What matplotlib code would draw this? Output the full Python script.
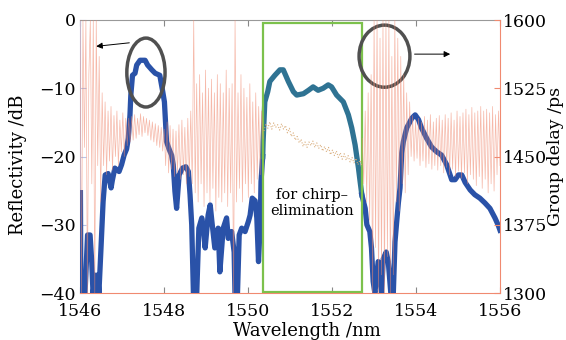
import numpy as np
import matplotlib
matplotlib.use("Agg")
import matplotlib.pyplot as plt
from matplotlib.patches import Ellipse, Rectangle

plt.rcParams['font.family'] = ['DejaVu Serif']
plt.rcParams['mathtext.fontset'] = 'dejavuserif'

# ---------------- data ----------------
# Reflectivity spectrum (dB)
refl_wl = [1546.01, 1546.02, 1546.12, 1546.18, 1546.24, 1546.28, 1546.31, 1546.37, 1546.42, 1546.45,
           1546.50, 1546.55, 1546.60, 1546.67, 1546.74, 1546.77, 1546.83, 1546.93, 1546.99, 1547.05,
           1547.11, 1547.15, 1547.19, 1547.21, 1547.25, 1547.31, 1547.35, 1547.43, 1547.55, 1547.61,
           1547.71, 1547.79, 1547.90, 1547.97, 1548.01, 1548.04, 1548.06, 1548.12, 1548.18, 1548.22,
           1548.26, 1548.30, 1548.36, 1548.44, 1548.52, 1548.58, 1548.62, 1548.66, 1548.70, 1548.78,
           1548.83, 1548.90, 1548.93, 1548.98, 1549.05, 1549.10, 1549.14, 1549.21, 1549.29, 1549.33,
           1549.41, 1549.49, 1549.53, 1549.61, 1549.67, 1549.69, 1549.75, 1549.79, 1549.85, 1549.93,
           1550.01, 1550.05, 1550.10, 1550.17, 1550.21, 1550.25, 1550.29, 1550.31, 1550.35,
           1550.36, 1550.40, 1550.47, 1550.52, 1550.64, 1550.76, 1550.84, 1550.96, 1551.08, 1551.16,
           1551.32, 1551.44, 1551.55, 1551.67, 1551.79, 1551.91, 1551.99, 1552.11, 1552.27, 1552.39,
           1552.47, 1552.55, 1552.63, 1552.67, 1552.71,
           1552.79, 1552.83, 1552.90, 1552.94, 1552.98, 1553.02, 1553.10, 1553.18, 1553.22, 1553.29,
           1553.34, 1553.40, 1553.46, 1553.50, 1553.54, 1553.58, 1553.62, 1553.66, 1553.70, 1553.78,
           1553.90, 1553.98, 1554.06, 1554.13, 1554.25, 1554.37, 1554.49, 1554.61, 1554.73, 1554.85,
           1554.93, 1555.01, 1555.09, 1555.17, 1555.29, 1555.40, 1555.52, 1555.64, 1555.76, 1555.88,
           1555.96, 1556.00]
refl_db = [-25.3, -40, -40, -31.5, -31.5, -35.5, -40, -37.4, -37.4, -40,
           -33.4, -26.6, -22.7, -22.5, -24.6, -23.5, -21.7, -22.2, -21.2, -19.8,
           -18.9, -17.3, -13.9, -11.0, -8.1, -7.8, -6.6, -5.9, -5.9, -6.6,
           -7.3, -7.8, -8.1, -10.5, -12.0, -15.4, -17.8, -18.9, -19.8, -21.2,
           -25.1, -27.6, -22.7, -21.7, -21.5, -22.2, -25.6, -30.0, -40, -40,
           -30.5, -29.0, -30.2, -33.4, -28.6, -27.1, -29.5, -33.4, -30.5, -36.9,
           -30.5, -29.0, -32.0, -31.0, -34.0, -40, -40, -31.5, -30.5, -31.0,
           -29.5, -28.6, -26.1, -26.5, -29.0, -35.4, -30.0, -23.7, -20.0,
           -17.8, -12.0, -10.5, -9.0, -8.1, -7.3, -7.3, -9.0, -10.5, -11.0,
           -10.8, -10.3, -9.8, -10.3, -10.0, -9.5, -9.8, -11.0, -12.0, -13.9,
           -15.8, -18.3, -21.7, -23.7, -25.6,
           -27.6, -30.0, -31.0, -33.4, -38.3, -40, -35.4, -40, -35.0, -34.0,
           -35.4, -40, -40, -32.5, -29.6, -26.8, -24.6, -19.5, -17.8, -15.8,
           -14.4, -13.9, -14.6, -15.8, -17.3, -18.6, -19.3, -19.8, -21.2, -23.4,
           -23.4, -22.7, -22.7, -23.8, -24.9, -25.6, -26.1, -26.8, -27.6, -29.0,
           -30.1, -30.8]

# Filter band used for chirp elimination (nm)
band_start, band_end = 1550.35, 1552.71

# Group delay (ps), measured outside the band
gd_a = [1600, 1300, 1600, 1460, 1600, 1300, 1540, 1600, 1420, 1600, 1300, 1600, 1440, 1560, 1400, 1520,
        1440, 1510, 1430, 1500, 1445, 1505, 1435, 1495, 1450, 1500, 1440, 1490, 1455, 1498, 1450, 1492,
        1462, 1492, 1466, 1494, 1468, 1496, 1470, 1492, 1474, 1497, 1472, 1494, 1476, 1492, 1473, 1490,
        1468, 1488, 1466, 1486, 1462, 1484, 1460, 1482, 1456, 1480,
        1440, 1488, 1432, 1484, 1436, 1480, 1428, 1478, 1432, 1485, 1425, 1490, 1430, 1482, 1420, 1492,
        1428, 1500, 1420, 1600,
        1410, 1530, 1400, 1540, 1420, 1520, 1395, 1545, 1410, 1525, 1400, 1535, 1415, 1520, 1390, 1540,
        1405, 1530, 1400, 1520, 1410, 1545, 1395, 1525, 1410, 1530, 1300, 1600, 1400, 1520, 1415, 1540,
        1400, 1525, 1420, 1515, 1405, 1530, 1420, 1510, 1410, 1520, 1425, 1505, 1430, 1500, 1470]
gd_b = [1470, 1420, 1500, 1400, 1520, 1380, 1540,
        1300, 1600, 1350, 1600, 1300, 1580, 1320, 1600, 1300, 1600, 1340, 1600, 1300, 1560, 1320, 1600,
        1400, 1580, 1390, 1560, 1420, 1540, 1410, 1520, 1430, 1510,
        1450, 1495, 1445, 1490, 1448, 1492, 1440, 1488, 1445, 1494, 1438, 1490, 1442, 1496, 1436, 1488,
        1440, 1492, 1435, 1495, 1440, 1490, 1432, 1496, 1438, 1492, 1430, 1498, 1436, 1490, 1428, 1500,
        1434, 1494, 1426, 1498, 1432, 1502, 1420, 1496, 1430, 1504, 1425, 1498, 1418, 1500, 1428, 1505,
        1415, 1500, 1425, 1502, 1410, 1498, 1420, 1505, 1412, 1496, 1430, 1500, 1440]
gd_a_range = (1546.0, 1550.36)
gd_b_range = (1552.72, 1556.0)

# Group delay inside the band (ps)
gd_band = [1478, 1486, 1481, 1488, 1480, 1487, 1482, 1485, 1479, 1486, 1480, 1484, 1476, 1481, 1472,
           1476, 1468, 1472, 1465, 1469, 1461, 1466, 1460, 1466, 1462, 1467, 1460, 1465, 1459, 1463,
           1456, 1461, 1455, 1460, 1452, 1457, 1451, 1456, 1449, 1454, 1447, 1453, 1446, 1451, 1444,
           1449, 1443, 1448, 1441, 1446, 1440]

x_ticks = [1546, 1548, 1550, 1552, 1554, 1556]
y_ticks = [-40, -30, -20, -10, 0]
gd_ticks = [1300, 1375, 1450, 1525, 1600]

# ---------------- figure ----------------
fig = plt.figure(figsize=(5.66, 3.40), dpi=100)
ax = fig.add_axes([80/566, 47/340, 420/566, 273/340])
ax2 = ax.twinx()

salmon = '#f08a70'
blue = '#2a52a8'
teal = '#2f7393'
lav = '#b8c4e8'

ax.set_xlim(1546, 1556)
ax.set_ylim(-40, 0)
ax2.set_ylim(1300, 1600)

wl = np.array(refl_wl)
db = np.array(refl_db)
left = wl <= band_start + 0.001
mid = (wl >= band_start - 0.001) & (wl <= band_end + 0.001)
right = wl >= band_end - 0.001
ax.plot(wl[left], db[left], color=blue, lw=3.8, solid_joinstyle='round', zorder=3)
ax.plot(wl[mid], db[mid], color=teal, lw=3.8, solid_joinstyle='round', zorder=3)
ax.plot(wl[right], db[right], color=blue, lw=3.8, solid_joinstyle='round', zorder=3)

ax.add_patch(Rectangle((band_start, -39.8), band_end - band_start, 39.3,
                       fill=False, edgecolor='#7cc14c', lw=1.6, zorder=4))
ax.text((band_start + band_end) / 2, -26.8, 'for chirp\u2013\nelimination',
        ha='center', va='center', fontsize=10.5, linespacing=1.15, zorder=5)

# group delay
ax2.plot(np.linspace(*gd_a_range, len(gd_a)), gd_a, color=salmon, lw=0.5, alpha=0.6, zorder=2)
ax2.plot(np.linspace(*gd_b_range, len(gd_b)), gd_b, color=salmon, lw=0.5, alpha=0.6, zorder=2)
ax2.plot(np.linspace(band_start + 0.03, band_end, len(gd_band)), gd_band,
         color='#d7a874', lw=0.8, ls=':', alpha=0.9, zorder=2)

# annotations (circles and arrows)
ax.add_patch(Ellipse((1547.57, -7.7), 0.91, 10.1, fill=False, edgecolor='#505050', lw=2.5, zorder=6))
ax.add_patch(Ellipse((1553.25, -5.3), 1.21, 9.1, fill=False, edgecolor='#505050', lw=2.5, zorder=6))
ax.annotate('', xy=(1546.32, -3.9), xytext=(1547.24, -3.3),
            arrowprops=dict(arrowstyle='-|>', color='black', lw=0.7, mutation_scale=9), zorder=6)
ax.annotate('', xy=(1554.88, -5.0), xytext=(1553.9, -5.0),
            arrowprops=dict(arrowstyle='-|>', color='black', lw=0.7, mutation_scale=9), zorder=6)

# axes styling
ax.set_xticks(x_ticks)
ax.set_yticks(y_ticks)
ax2.set_yticks(gd_ticks)
ax.set_xticklabels([str(t) for t in x_ticks])
ax.set_yticklabels(['\u221240', '\u221230', '\u221220', '\u221210', '0'])
ax.tick_params(axis='x', direction='in', length=4, color='#888888', labelsize=12.5, pad=7, top=True)
ax.tick_params(axis='y', direction='in', length=4, color=lav, labelsize=12.5, pad=3)
ax2.tick_params(axis='y', direction='in', length=4, color=salmon, labelsize=12.5, pad=2)
ax.spines['left'].set_color(lav)
ax.spines['top'].set_color('#999999')
ax.spines['bottom'].set_color(salmon)
ax.spines['right'].set_visible(False)
ax2.spines['right'].set_color(salmon)
ax2.spines['left'].set_visible(False)
ax2.spines['top'].set_visible(False)
ax2.spines['bottom'].set_visible(False)
for sp in list(ax.spines.values()) + list(ax2.spines.values()):
    sp.set_linewidth(0.8)

ax.set_xlabel('Wavelength /nm', fontsize=13)
ax.xaxis.set_label_coords(0.54, -0.105)
ax.set_ylabel('Reflectivity /dB', fontsize=13)
ax.yaxis.set_label_coords(-0.127, 0.47)
ax2.set_ylabel('Group delay /ps', fontsize=12.5)
ax2.yaxis.set_label_coords(1.112, 0.5)

fig.savefig('out.png', dpi=100)
